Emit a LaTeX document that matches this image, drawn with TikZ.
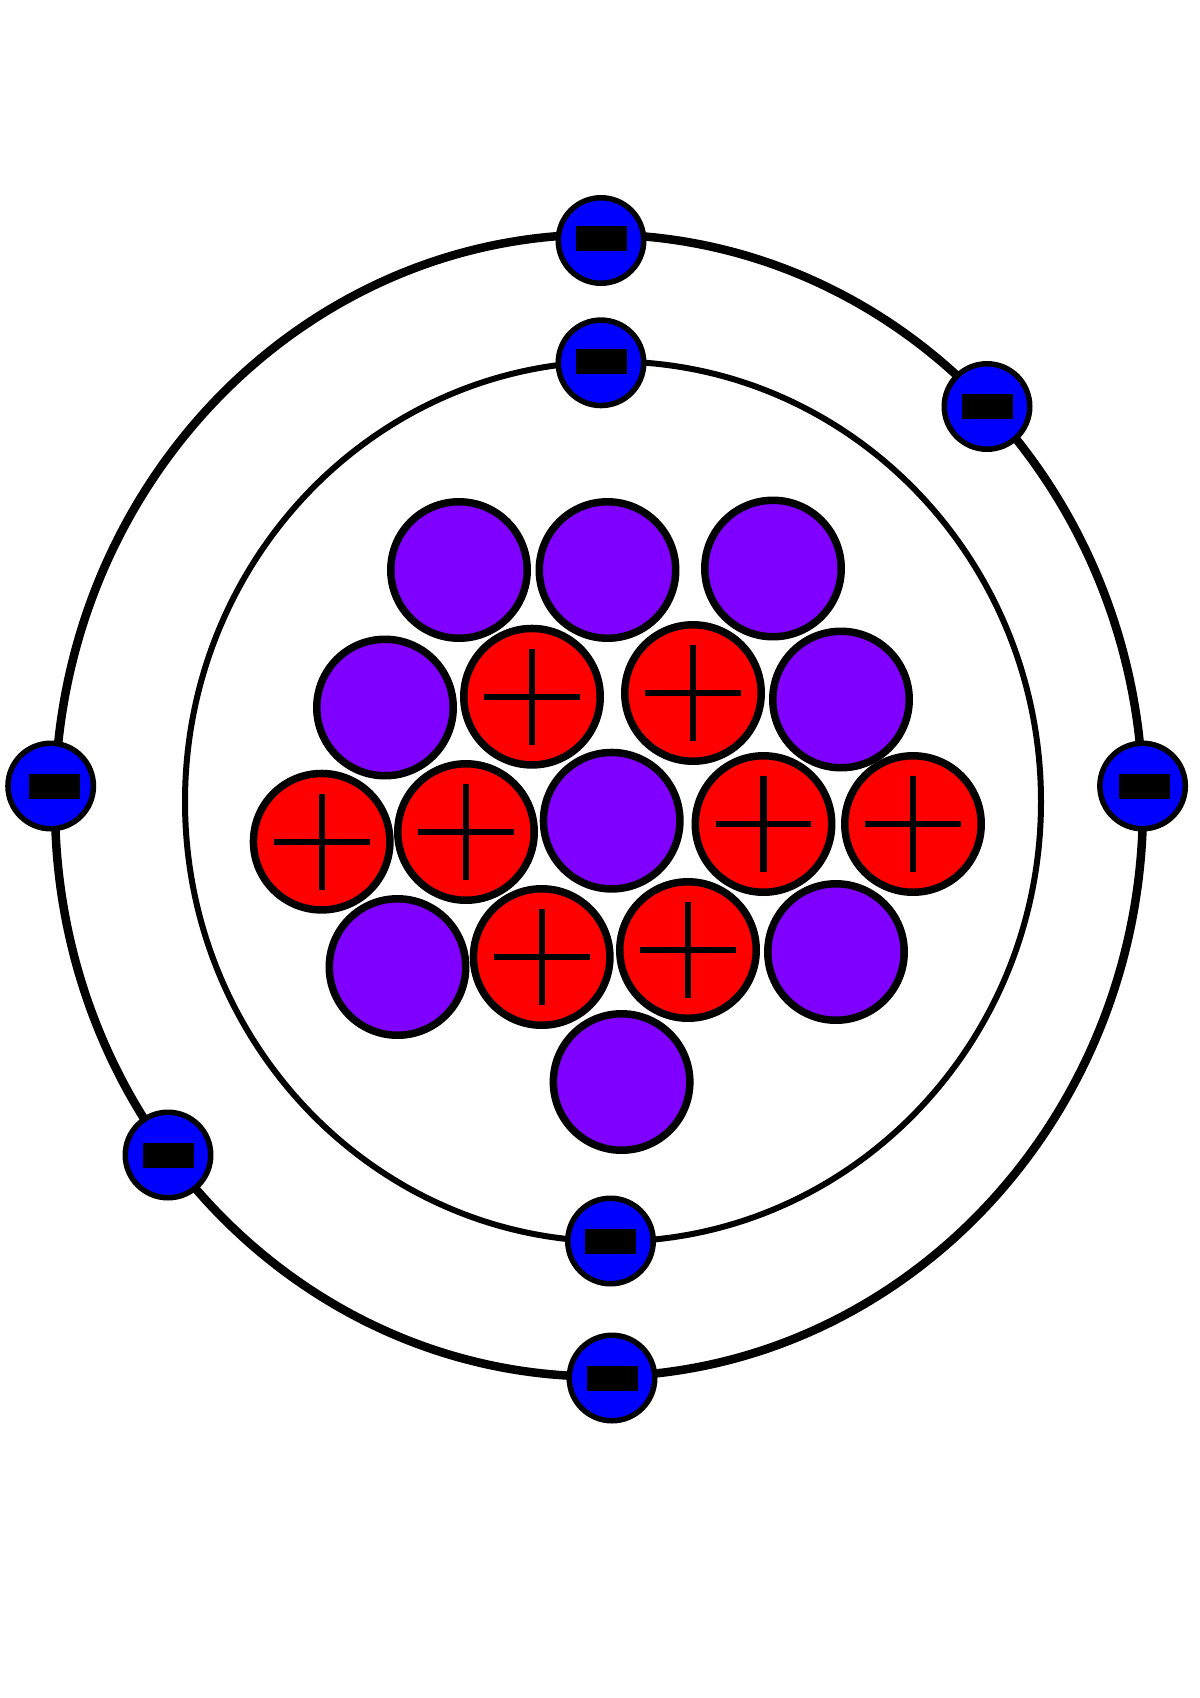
\documentclass[tikz,border=0pt]{standalone}
\tikzset{
  ball/.style={circle,draw=black,inner sep=0pt,outer sep=0pt},
  neutron/.style={ball,fill=neutroncol,line width=0.15cm,minimum size=2.73cm},
  proton/.style={ball,fill=red,line width=0.15cm,minimum size=2.73cm},
  electron/.style={ball,fill=blue,line width=0.11cm,minimum size=1.71cm},
  ringouter/.style={draw=black,line width=0.17cm},
  ringinner/.style={draw=black,line width=0.12cm},
  crossbar/.style={draw=black,line width=0.125cm},
  minusbar/.style={fill=black}
}
\definecolor{neutroncol}{RGB}{127,0,255}
\newcommand{\plusmark}[1]{%
  \draw[crossbar] ([xshift=-0.96cm]#1.center) -- ([xshift=0.96cm]#1.center);
  \draw[crossbar] ([yshift=0.96cm]#1.center) -- ([yshift=-0.96cm]#1.center);}
\newcommand{\minusmark}[3]{%
  \fill[minusbar] ([xshift=#2 cm-0.51cm,yshift=#3 cm-0.25cm]#1.center) rectangle ([xshift=#2 cm+0.51cm,yshift=#3 cm+0.25cm]#1.center);}
\begin{document}
\begin{tikzpicture}[x=0.02cm,y=-0.02cm]
\path[use as bounding box,fill=white] (0,0) rectangle (1200,1698);
% orbits
\coordinate (co) at (599,805.5);
\coordinate (ci) at (613,801.5);
\draw[ringouter] (co) ellipse [x radius=544,y radius=571];
\draw[ringinner] (ci) ellipse [x radius=428,y radius=440];
% neutrons
\node[neutron] (n1) at (459,570) {};
\node[neutron] (n2) at (607.5,570) {};
\node[neutron] (n3) at (773,568.5) {};
\node[neutron] (n4) at (385,707.5) {};
\node[neutron] (n5) at (841,699.5) {};
\node[neutron] (n6) at (611.7,820.7) {};
\node[neutron] (n7) at (397.5,967) {};
\node[neutron] (n8) at (836,952) {};
\node[neutron] (n9) at (621.6,1082) {};
% protons
\node[proton] (p1) at (532,696.7) {};
\node[proton] (p2) at (693,693) {};
\node[proton] (p3) at (321.7,841.7) {};
\node[proton] (p4) at (466,832) {};
\node[proton] (p5) at (763.5,824) {};
\node[proton] (p6) at (913,824) {};
\node[proton] (p7) at (541.7,957) {};
\node[proton] (p8) at (688,950) {};
\foreach \p in {p1,p2,p3,p4,p5,p6,p7,p8}{\plusmark{\p}}
% electrons
\node[electron] (e1) at (601,240.5) {};
\node[electron] (e2) at (601,362.8) {};
\node[electron] (e3) at (987,406.5) {};
\node[electron] (e4) at (50.7,786) {};
\node[electron] (e5) at (168,1155) {};
\node[electron] (e6) at (1142.6,786) {};
\node[electron] (e7) at (610.5,1241) {};
\node[electron] (e8) at (612,1378) {};
\minusmark{e1}{0}{0.05}
\minusmark{e2}{0}{0.03}
\minusmark{e3}{0}{0}
\minusmark{e4}{0.07}{0}
\minusmark{e5}{0.01}{0}
\minusmark{e6}{0.03}{0}
\minusmark{e7}{0}{0}
\minusmark{e8}{0}{0}
\end{tikzpicture}
\end{document}
